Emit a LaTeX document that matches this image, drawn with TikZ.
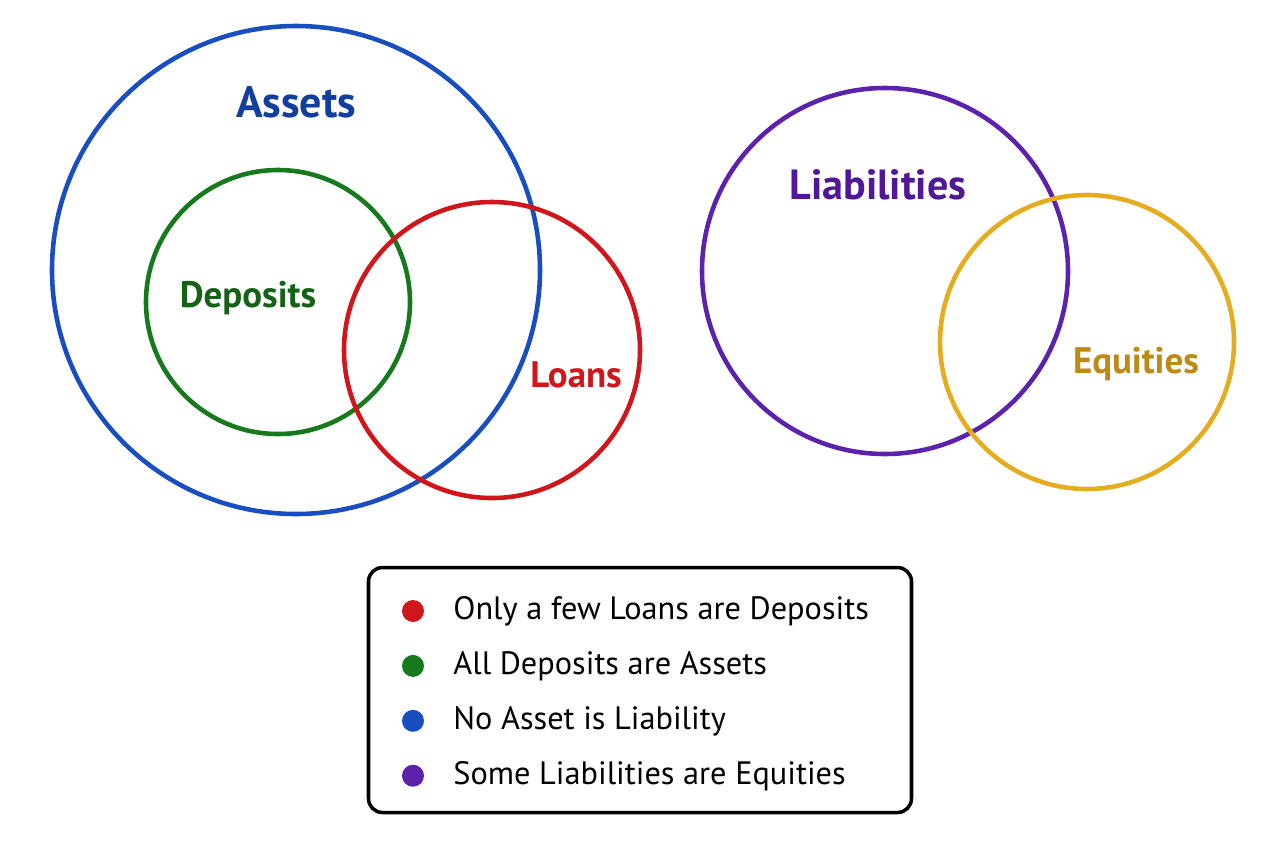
\documentclass[tikz,border=0pt]{standalone}
\usepackage{fontspec}
\setmainfont{PT Sans}
\usetikzlibrary{positioning}

\definecolor{assetblue}{RGB}{24,78,192}
\definecolor{assettext}{RGB}{18,62,160}
\definecolor{depositgreen}{RGB}{22,122,28}
\definecolor{deposittext}{RGB}{20,98,22}
\definecolor{loanred}{RGB}{208,22,26}
\definecolor{liabpurple}{RGB}{92,34,172}
\definecolor{liabtext}{RGB}{80,24,150}
\definecolor{equityyellow}{RGB}{230,172,32}
\definecolor{equitytext}{RGB}{188,138,22}

\begin{document}
\begin{tikzpicture}[
	x=0.1mm,y=-0.1mm,
	setcircle/.style={
		circle,draw,
		line width=1.3pt,
		minimum size=#1,
		inner sep=0pt,
	},
	biglabel/.style={
		font=\fontsize{12.5}{14}\selectfont\bfseries,
	},
	smalllabel/.style={
		font=\fontsize{10.5}{12}\selectfont\bfseries,
	},
	dot/.style={
		circle,fill,
		minimum size=2.2mm,
		inner sep=0pt,
	},
	item/.style={
		font=\fontsize{9.2}{11}\selectfont,
		inner sep=0pt,
		anchor=west,
	},
	node distance=3.15mm
]
\useasboundingbox (0,0) rectangle (1280,853);

% Left group
\node [setcircle=48.8mm,assetblue] (assets) at (296,270) {};
\node [setcircle=26.4mm,depositgreen] (deposits) at (278,302) {};
\node [setcircle=29.6mm,loanred] (loans) at (492,350) {};

\node [biglabel,assettext] (assetslbl) at (296,102) {Assets};
\node [smalllabel,deposittext] (depositslbl) at (248,298) {Deposits};
\node [smalllabel,loanred] (loanslbl) at (576,375) {Loans};

% Right group
\node [setcircle=36.6mm,liabpurple] (liab) at (885,271) {};
\node [setcircle=29.4mm,equityyellow] (equity) at (1087,342) {};

\node [biglabel,liabtext,font=\fontsize{12}{14}\selectfont\bfseries] (liablbl) at (878,185) {Liabilities};
\node [smalllabel,equitytext] (equitylbl) at (1136,364) {Equities};

% Legend box
\node [
	rectangle,draw,
	line width=1pt,
	rounded corners=1.4mm,
	minimum width=54.3mm,
	minimum height=24.5mm,
] (legend) at (640,690) {};

\node [dot,loanred] (dot1) at (413,611) {};
\node [dot,depositgreen,below=of dot1] (dot2) {};
\node [dot,assetblue,below=of dot2] (dot3) {};
\node [dot,liabpurple,below=of dot3] (dot4) {};

\node [item,right=2.8mm of dot1] (item1) {Only a few Loans are Deposits};
\node [item,right=2.8mm of dot2] (item2) {All Deposits are Assets};
\node [item,right=2.8mm of dot3] (item3) {No Asset is Liability};
\node [item,right=2.8mm of dot4] (item4) {Some Liabilities are Equities};

\end{tikzpicture}
\end{document}
